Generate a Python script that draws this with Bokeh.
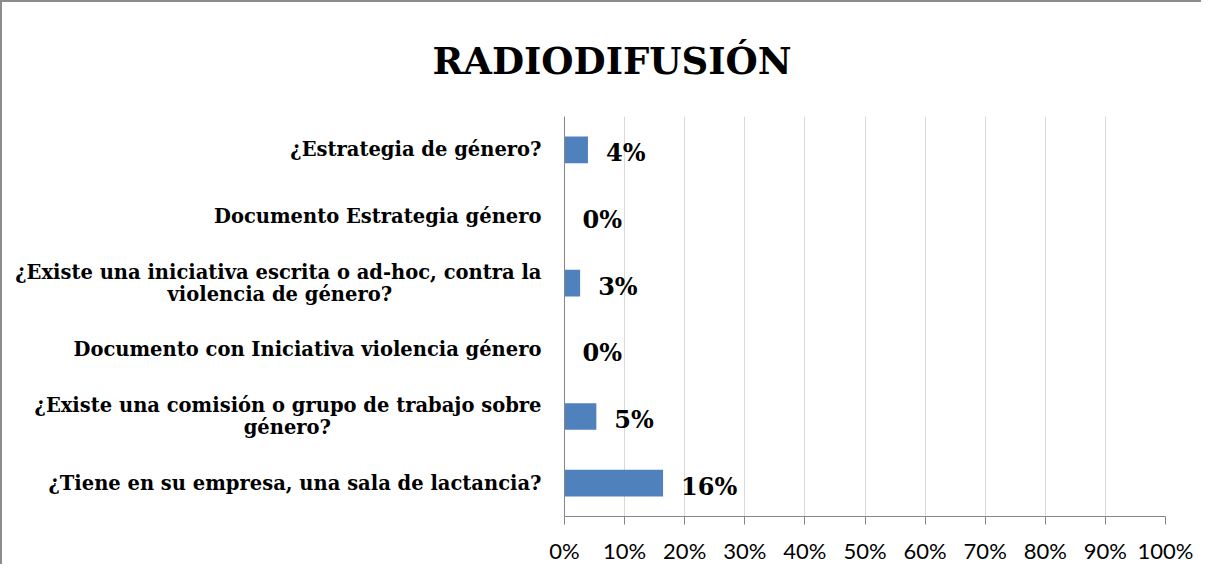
from bokeh.plotting import figure
from bokeh.models import Range1d, FactorRange, FixedTicker, ColumnDataSource
from bokeh.embed import file_html
from bokeh.resources import INLINE
from bokeh.core.properties import value

title_text = "RADIODIFUSIÓN"
# top to bottom as shown, split into the lines used by the chart
category_lines = [
    ["¿Estrategia de género?"],
    ["Documento Estrategia género"],
    ["¿Existe una iniciativa escrita o ad-hoc, contra la", "violencia de género?"],
    ["Documento con Iniciativa violencia género"],
    ["¿Existe una comisión o grupo de trabajo sobre", "género?"],
    ["¿Tiene en su empresa, una sala de lactancia?"],
]
shares = [3.9, 0.0, 2.6, 0.0, 5.3, 16.4]
x_ticks = [0, 10, 20, 30, 40, 50, 60, 70, 80, 90, 100]
x_tick_labels = ["0%", "10%", "20%", "30%", "40%", "50%", "60%", "70%", "80%", "90%", "100%"]

# trailing no-break spaces so the second line sits centred under the first
# (Bokeh right-justifies multi-line axis labels on a left axis)
second_line_pad = {2: 22, 4: 31}
NBSP = "\u00a0"
categories = []
for i, lines in enumerate(category_lines):
    if len(lines) > 1:
        categories.append(lines[0] + "\n" + lines[1] + NBSP * second_line_pad[i])
    else:
        categories.append(lines[0])

W, H = 1201, 564
# canvas sits 2px right/down because of the CSS border
FRAME_L, FRAME_R, FRAME_T, FRAME_B = 562, 1163, 111, 516

factors = list(reversed(categories))
p = figure(width=W, height=H,
           x_range=Range1d(0, 100),
           y_range=FactorRange(factors=factors),
           output_backend="svg", toolbar_location=None,
           min_border_left=FRAME_L, min_border_right=W - FRAME_R,
           min_border_top=FRAME_T, min_border_bottom=H - FRAME_B)
p.styles = {"border-left": "2px solid #8c8c8c", "border-top": "2px solid #8c8c8c"}
p.outline_line_color = None
p.background_fill_color = "white"
p.border_fill_color = "white"

p.title.text = title_text
p.title.align = "left"
p.title.offset = -132
p.title.standoff = 68
p.title.text_font = "DejaVu Serif"
p.title.text_font_style = "bold"
p.title.text_font_size = "37px"
p.title.text_color = "black"

source = ColumnDataSource(dict(
    cat=categories,
    share=shares,
    label=[f"{round(v)}%" for v in shares],
))

p.hbar(y="cat", left=0, right="share", height=0.4, source=source,
       fill_color="#4F81BD", line_color=None)

p.text(x="share", y="cat", text="label", source=source,
       x_offset=18, y_offset=3, text_align="left", text_baseline="middle",
       text_font=value("DejaVu Serif"), text_font_style="bold",
       text_font_size="24px", text_color="black")

# x axis
p.xaxis.ticker = FixedTicker(ticks=x_ticks)
p.xaxis.major_label_overrides = {t: l for t, l in zip(x_ticks, x_tick_labels)}
p.xaxis.axis_line_color = "#868686"
p.xaxis.major_tick_line_color = "#868686"
p.xaxis.major_tick_out = 8
p.xaxis.major_tick_in = 0
p.xaxis.minor_tick_line_color = None
p.xaxis.major_label_text_font = "Lato"
p.xaxis.major_label_text_font_size = "22px"
p.xaxis.major_label_text_color = "black"
p.xaxis.major_label_standoff = 12

# y axis: category labels
p.yaxis.axis_line_color = "#868686"
p.yaxis.major_tick_line_color = None
p.yaxis.major_tick_out = 0
p.yaxis.major_tick_in = 0
p.yaxis.minor_tick_line_color = None
p.yaxis.major_label_standoff = 23
p.yaxis.major_label_text_font = "DejaVu Serif"
p.yaxis.major_label_text_font_style = "bold"
p.yaxis.major_label_text_font_size = "19.5px"
p.yaxis.major_label_text_color = "black"
p.yaxis.major_label_text_line_height = 0.97

p.xgrid.grid_line_color = "#d9d9d9"
p.ygrid.grid_line_color = None

open("out.html", "w").write(file_html(p, INLINE))
